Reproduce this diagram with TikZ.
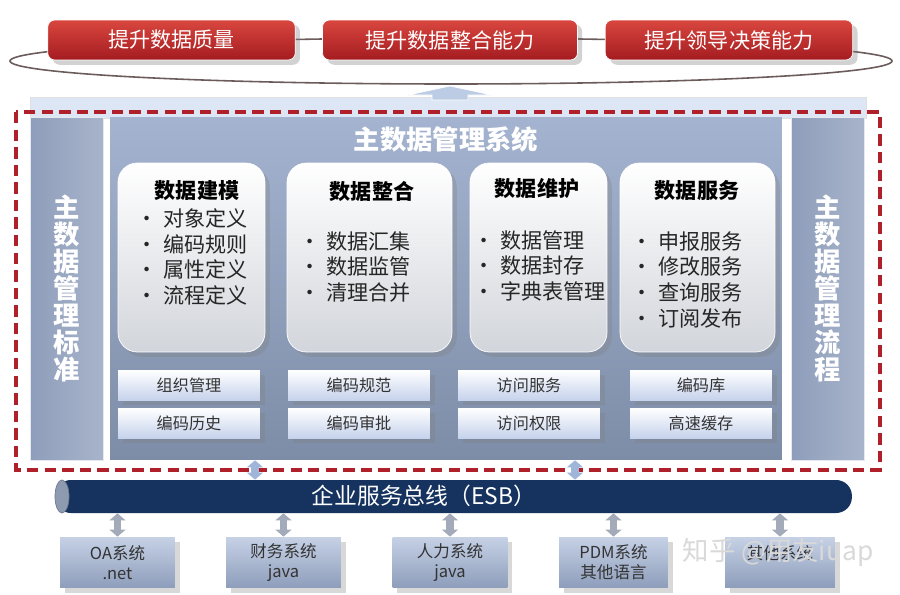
\documentclass[tikz,border=0pt]{standalone}
\usepackage{fontspec}
\setmainfont{Noto Sans CJK SC}
\usetikzlibrary{calc,shadows,arrows.meta}
\definecolor{goaltop}{HTML}{D9463F}
\definecolor{goalbot}{HTML}{A41C20}
\definecolor{ringline}{HTML}{6B5B5B}
\definecolor{dashred}{HTML}{B0202A}
\definecolor{paneltop}{HTML}{A4B3CF}
\definecolor{panelbot}{HTML}{7D8CA7}
\definecolor{sidetop}{HTML}{8E9DBB}
\definecolor{sidebot}{HTML}{A8B4CA}
\definecolor{modbot}{HTML}{D2D5DB}
\definecolor{subbot}{HTML}{C6D3EC}
\definecolor{esbblue}{HTML}{15335E}
\definecolor{capgray}{HTML}{8D9AB0}
\definecolor{systop}{HTML}{C6D1E6}
\definecolor{sysbot}{HTML}{8D9DBA}
\definecolor{linkgray}{HTML}{A3AABA}
\definecolor{linkblue}{HTML}{9FB6D8}
\definecolor{bandblue}{HTML}{DCE6F4}
\tikzset{
  goal/.style={rounded corners=4pt, top color=goaltop, bottom color=goalbot,
    draw=white, text=white, minimum width=4.95cm, minimum height=0.8cm,
    font=\fontsize{12}{14}\selectfont, drop shadow={opacity=0.35}},
  side/.style={left color=sidetop, right color=sidebot, minimum width=1.46cm,
    minimum height=6.86cm, draw=white!70!sidebot},
  sidetext/.style={align=center, text=white, font=\bfseries\fontsize{15}{15.3}\selectfont},
  module/.style={rounded corners=11pt, top color=white, bottom color=modbot,
    draw=white, minimum height=3.78cm, drop shadow={opacity=0.3}},
  modtitle/.style={font=\bfseries\fontsize{12}{14}\selectfont, text=black},
  modlist/.style={anchor=north west, inner sep=0pt, align=left,
    font=\fontsize{12}{14.7}\selectfont, text=black!85},
  subbox/.style={top color=white, bottom color=subbot, minimum width=2.84cm,
    minimum height=0.6cm, font=\fontsize{9.2}{11}\selectfont, text=black!80,
    drop shadow={opacity=0.3}},
  sysbox/.style={top color=systop, bottom color=sysbot, minimum width=2.3cm,
    minimum height=1.02cm, align=center, text=black!80,
    font=\fontsize{9.4}{11.3}\selectfont, drop shadow={opacity=0.3}},
  link/.style={line width=4pt, draw=linkgray,
    {Triangle[width=9pt,length=4pt]}-{Triangle[width=9pt,length=4pt]}},
  buslink/.style={link, draw=linkblue},
}
\newcommand{\itm}[1]{\makebox[15.5pt][l]{\large•}#1}
\begin{document}
\begin{tikzpicture}[x=0.02cm,y=-0.02cm]
\useasboundingbox[fill=white] (0,0) rectangle (900,595);

% goals on top
\draw[ringline, line width=0.9pt] (451,61) ellipse [x radius=441, y radius=23];
\node[goal] (g1) at (171.5,40) {提升数据质量};
\node[goal, minimum width=5.1cm] (g2) at (450,40) {提升数据整合能力};
\node[goal] (g3) at (729,40) {提升领导决策能力};

% arrow up and band
\fill[bandblue, draw=white!75!gray] (30,97) rectangle (866,118);
\draw[fill=linkblue!70, draw=white] (450,86) -- (492,95) -- (468,95) -- (468,100)
  -- (432,100) -- (432,95) -- (408,95) -- cycle;

% the system
\node[side] (lcol) at (66.5,288.5) {};
\node[sidetext] (ltxt) at (lcol) {主\\数\\据\\管\\理\\标\\准};
\node[top color=paneltop, bottom color=panelbot, minimum width=13.44cm,
  minimum height=6.86cm] (panel) at (446,288.5) {};
\node[side] (rcol) at (827.5,288.5) {};
\node[sidetext] (rtxt) at (rcol) {主\\数\\据\\管\\理\\流\\程};
\node[text=white, font=\bfseries\fontsize{15}{17}\selectfont] (ptitle) at (446,139) {主数据管理系统};

\node[module, minimum width=2.94cm] (m1) at (191.5,257.5) {};
\node[module, minimum width=3.3cm] (m2) at (369.5,257.5) {};
\node[module, minimum width=2.74cm] (m3) at (538.5,257.5) {};
\node[module, minimum width=3.1cm] (m4) at (697.5,257.5) {};
\node[modtitle] (t1) at (197,191) {数据建模};
\node[modtitle] (t2) at (372,191) {数据整合};
\node[modtitle] (t3) at (537,188) {数据维护};
\node[modtitle] (t4) at (697,191) {数据服务};
\node[modlist] (l1) at (136,208) {\itm{对象定义}\\\itm{编码规则}\\\itm{属性定义}\\\itm{流程定义}};
\node[modlist] (l2) at (299,231) {\itm{数据汇集}\\\itm{数据监管}\\\itm{清理合并}};
\node[modlist] (l3) at (473,230) {\itm{数据管理}\\\itm{数据封存}\\\itm{字典表管理}};
\node[modlist] (l4) at (631,231) {\itm{申报服务}\\\itm{修改服务}\\\itm{查询服务}\\\itm{订阅发布}};

\node[subbox] (s1) at (189,385) {组织管理};
\node[subbox] (s2) at (359,385) {编码规范};
\node[subbox] (s3) at (529,385) {访问服务};
\node[subbox] (s4) at (701,385) {编码库};
\node[subbox] (s5) at (189,423) {编码历史};
\node[subbox] (s6) at (359,423) {编码审批};
\node[subbox] (s7) at (529,423) {访问权限};
\node[subbox] (s8) at (701,423) {高速缓存};

\draw[dashred, line width=2pt, dash pattern=on 6.5pt off 3.5pt] (16,112) rectangle (880,470);

% bus
\node[rounded corners=9pt, fill=esbblue, minimum width=15.94cm, minimum height=0.66cm] (esb) at (453.5,496.5) {};
\draw[fill=capgray, draw=capgray!80!black] (62,496.5) ellipse [x radius=7, y radius=16.5];
\node[text=white, font=\fontsize{13}{15}\selectfont] (esbtext) at (424,496) {企业服务总线（ESB）};
\draw[buslink] (panel.south -| 255,0) -- (esb.north -| 255,0);
\draw[buslink] (panel.south -| 575,0) -- (esb.north -| 575,0);

% systems
\node[sysbox] (b1) at (117.5,562.5) {OA系统\\.net};
\node[sysbox] (b2) at (283.5,562.5) {财务系统\\java};
\node[sysbox] (b3) at (450,562.5) {人力系统\\java};
\node[sysbox, minimum width=2.18cm] (b4) at (613.5,562.5) {PDM系统\\其他语言};
\node[sysbox, minimum width=2.2cm] (b5) at (780,562.5) {其他系统\\};
\foreach \b in {b1,b2,b3,b4,b5}
  \draw[link] (esb.south -| \b.north) -- (\b.north);

\node[text=gray!30, font=\fontsize{15}{17}\selectfont] (wm) at (778,552) {知乎 @用友iuap};
\end{tikzpicture}
\end{document}
